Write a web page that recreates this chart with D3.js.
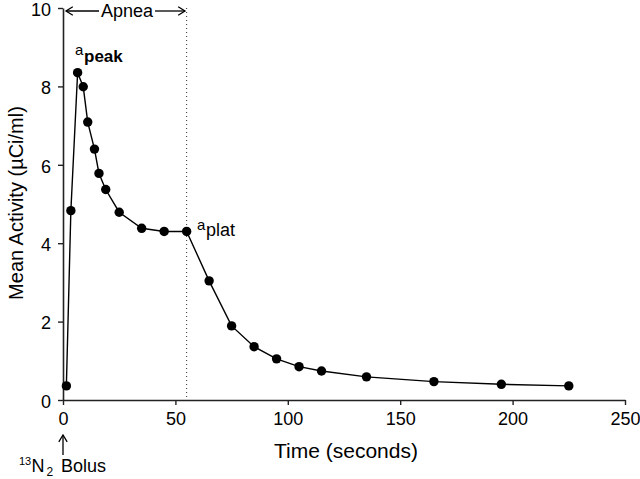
<!DOCTYPE html>
<html>
<head>
<meta charset="utf-8">
<script src="https://cdn.jsdelivr.net/npm/d3@7"></script>
<style>
  html, body { margin: 0; padding: 0; background: #fff; }
  svg { display: block; }
  text { font-family: "Liberation Sans", Arial, sans-serif; fill: #000; }
</style>
</head>
<body>
<svg id="chart" width="640" height="479"></svg>
<script>
// ---- data ----
const time = [1.5, 3.5, 6.5, 9, 11, 14, 16, 19, 25, 35, 45, 55, 65, 75, 85, 95, 105, 115, 135, 165, 195, 225];
const activity = [0.36, 4.83, 8.35, 7.99, 7.09, 6.40, 5.78, 5.37, 4.79, 4.38, 4.30, 4.30, 3.04, 1.89, 1.36, 1.05, 0.85, 0.74, 0.59, 0.47, 0.40, 0.36];
const xTicks = [0, 50, 100, 150, 200, 250];
const yTicks = [0, 2, 4, 6, 8, 10];
const apneaEnd = 55;
const xDomain = [0, 250];
const yDomain = [0, 10];

const svg = d3.select("#chart");
const x = d3.scaleLinear().domain(xDomain).range([63, 625]);
const y = d3.scaleLinear().domain(yDomain).range([400, 8]);

// axes
const gx = svg.append("g").attr("transform", "translate(0,400)")
  .call(d3.axisBottom(x).tickValues(xTicks).tickSize(5).tickSizeOuter(0).tickPadding(7).tickFormat(d3.format("d")));
const gy = svg.append("g").attr("transform", "translate(63,0)")
  .call(d3.axisLeft(y).tickValues(yTicks).tickSize(5).tickSizeOuter(0).tickPadding(7).tickFormat(d3.format("d")));
[gx, gy].forEach(g => {
  g.select(".domain").attr("stroke", "#222").attr("stroke-width", 1.6);
  g.selectAll(".tick line").attr("stroke", "#222").attr("stroke-width", 1.4);
  g.selectAll(".tick text").attr("font-size", 18).attr("font-family", "Liberation Sans, Arial, sans-serif").attr("fill", "#000");
});
gy.selectAll(".tick text").attr("dy", "0.4em");

// apnea dotted line
svg.append("line")
  .attr("x1", x(apneaEnd)).attr("x2", x(apneaEnd))
  .attr("y1", y(10)).attr("y2", y(0))
  .attr("stroke", "#333").attr("stroke-width", 1)
  .attr("stroke-dasharray", "1,3");

// data line
const pts = time.map((t, i) => [t, activity[i]]);
svg.append("path")
  .datum(pts)
  .attr("fill", "none").attr("stroke", "#000").attr("stroke-width", 1.4)
  .attr("d", d3.line().x(d => x(d[0])).y(d => y(d[1])));
svg.selectAll("circle.pt").data(pts).enter().append("circle")
  .attr("class", "pt")
  .attr("cx", d => x(d[0])).attr("cy", d => y(d[1])).attr("r", 4.7)
  .attr("fill", "#000");

// axis titles
svg.append("text").attr("x", 346).attr("y", 458).attr("text-anchor", "middle")
  .attr("font-size", 21).text("Time (seconds)");
svg.append("text").attr("transform", "translate(23,203) rotate(-90)").attr("text-anchor", "middle")
  .attr("font-size", 20).text("Mean Activity (\u00B5Ci/ml)");

// arrows helper
function arrow(x1, y1, x2, y2) {
  const g = svg.append("g").attr("stroke", "#000").attr("stroke-width", 1.3).attr("fill", "none");
  g.append("line").attr("x1", x1).attr("y1", y1).attr("x2", x2).attr("y2", y2);
  const a = Math.atan2(y2 - y1, x2 - x1), L = 8, w = 0.55;
  const p1 = [x2 - L * Math.cos(a - w), y2 - L * Math.sin(a - w)];
  const p2 = [x2 - L * Math.cos(a + w), y2 - L * Math.sin(a + w)];
  g.append("path").attr("d", `M${p1[0]},${p1[1]}L${x2},${y2}L${p2[0]},${p2[1]}`);
}

// Apnea annotation
const ay = 11;
arrow(99, ay, 66, ay);
arrow(155, ay, 185, ay);
svg.append("text").attr("x", 127).attr("y", 17).attr("text-anchor", "middle").attr("font-size", 18).text("Apnea");

// a_peak / a_plat
svg.append("text").attr("x", 75).attr("y", 55).attr("font-size", 15).text("a");
svg.append("text").attr("x", 84).attr("y", 62).attr("font-size", 17).attr("font-weight", "bold").text("peak");
svg.append("text").attr("x", 197).attr("y", 230).attr("font-size", 15).text("a");
svg.append("text").attr("x", 206).attr("y", 236).attr("font-size", 18).text("plat");

// Bolus annotation
arrow(63, 455, 63, 435);
svg.append("text").attr("x", 19).attr("y", 465).attr("font-size", 11).text("13");
svg.append("text").attr("x", 31.5).attr("y", 472).attr("font-size", 18).text("N");
svg.append("text").attr("x", 46.5).attr("y", 476).attr("font-size", 12).text("2");
svg.append("text").attr("x", 61).attr("y", 472).attr("font-size", 18).text("Bolus");
</script>
</body>
</html>
